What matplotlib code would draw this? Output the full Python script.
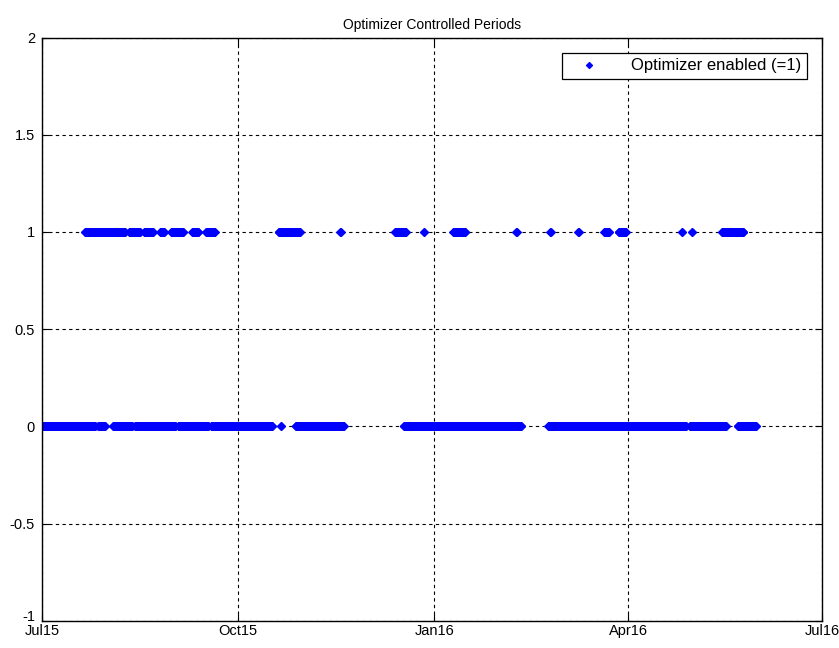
import numpy as np
import matplotlib
matplotlib.use("Agg")
import matplotlib.pyplot as plt
import matplotlib.dates as mdates
import matplotlib.transforms as mtransforms

plt.rcParams['font.family'] = ['Liberation Sans', 'DejaVu Sans']

# day offsets from 2015-07-01 where the optimizer flag was logged
start = np.datetime64('2015-07-01')
on_periods = [(20.2, 34.3), (34.8, 39.0), (41.0, 46.0), (48.0, 52.0), (55.5, 57.4),
              (60.7, 66.3), (70.5, 73.4), (77.0, 81.0), (111.0, 121.0), (140.0, 140.2),
              (165.6, 170.7), (179.0, 179.2), (193.0, 198.5), (222.5, 222.7),
              (238.5, 238.7), (251.6, 251.8), (263.8, 266.0), (270.5, 273.8),
              (300.0, 300.2), (304.8, 305.0), (319.0, 329.0)]
off_periods = [(0.5, 21.2), (21.6, 25.0), (26.3, 29.6), (33.4, 42.3), (43.7, 62.6),
               (64.0, 78.0), (79.5, 108.0), (112.0, 112.2), (119.0, 141.6),
               (169.8, 224.8), (237.5, 302.0), (303.9, 320.8), (326.4, 335.0)]
step_hours = 3

def samples(periods, value):
    t, v = [], []
    for a, b in periods:
        hrs = np.arange(a * 24, b * 24 + 0.01, step_hours)
        t.append(start + (hrs * 3600).astype('timedelta64[s]'))
        v.append(np.full(len(hrs), value))
    return np.concatenate(t), np.concatenate(v)

t1, v1 = samples(on_periods, 1)
t0, v0 = samples(off_periods, 0)
t = np.concatenate([t0, t1])
v = np.concatenate([v0, v1])

fig = plt.figure(figsize=(8.39, 6.48), dpi=100)
ax = fig.add_axes([0.050, 0.042, 0.930, 0.900])
ax.plot(t.astype('datetime64[s]').astype(object), v, linestyle='none', marker='D',
        markersize=4, markeredgewidth=0.8, color='blue', label='Optimizer enabled (=1)')

ax.set_xlim(np.datetime64('2015-07-01').astype(object), np.datetime64('2016-07-01').astype(object))
ax.set_ylim(-1, 2)
ax.set_yticks([-1, -0.5, 0, 0.5, 1, 1.5, 2])
ax.set_yticklabels(['-1', '-0.5', '0', '0.5', '1', '1.5', '2'])
ax.xaxis.set_major_locator(mdates.MonthLocator(bymonth=[1, 4, 7, 10]))
ax.xaxis.set_major_formatter(mdates.DateFormatter('%b%y'))
ax.tick_params(direction='in', labelsize=10.5, length=5, top=True, right=True,
               labeltop=False, labelright=False)
ax.tick_params(axis='x', pad=2)
ax.tick_params(axis='y', pad=5)
ax.grid(True, color='black', linestyle=(0, (3, 3)), linewidth=0.8)
ax.set_title('Optimizer Controlled Periods', fontsize=10)
for s in ax.spines.values():
    s.set_linewidth(1.0)

# lift the lowest y label a little so it clears Jul15
lab = ax.get_yticklabels()[0]
lab.set_transform(lab.get_transform() + mtransforms.ScaledTranslation(0, 4 / 72, fig.dpi_scale_trans))

leg = ax.legend(loc='upper right', fancybox=False, edgecolor='black', framealpha=1,
                fontsize=12, borderaxespad=0.9, handletextpad=1.2, markerscale=0.8,
                borderpad=0.35, handlelength=2.6)
leg.get_frame().set_linewidth(0.9)

fig.savefig('out.png', dpi=100)
